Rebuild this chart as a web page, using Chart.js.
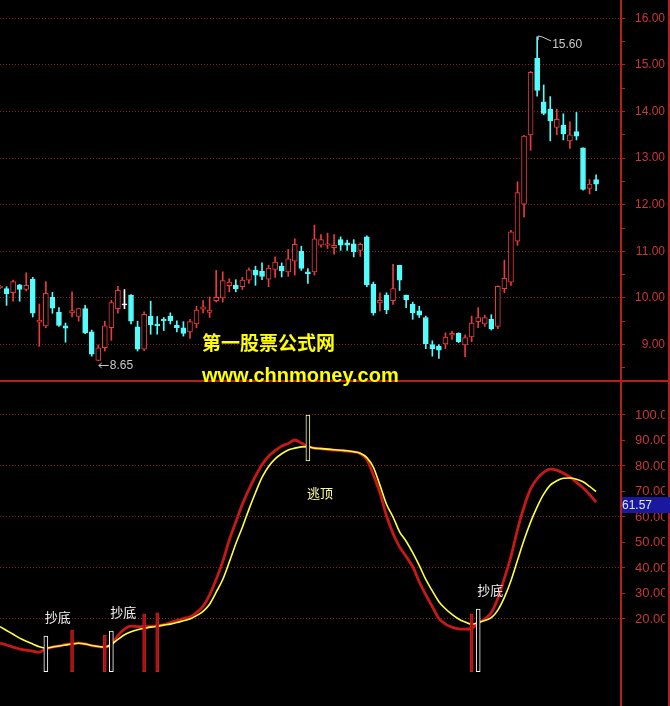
<!DOCTYPE html>
<html>
<head>
<meta charset="utf-8">
<title>K线 + 抄底逃顶指标</title>
<script src="https://cdn.jsdelivr.net/npm/chart.js@4.4.1/dist/chart.umd.min.js"></script>
<style>
  html, body { margin: 0; padding: 0; background: #000; }
  #wrap { position: relative; width: 670px; height: 706px; overflow: hidden; background: #000; }
  #priceChart { position: absolute; left: 0; top: 0; }
  #oscChart { position: absolute; left: 0; top: 382px; }
  .wm { position: absolute; left: 202px; color: #ffff00; white-space: nowrap; z-index: 2; }
  #wm1 { top: 332px; font: bold 19px 'Noto Sans CJK SC', sans-serif; line-height: 19px; }
  #wm2 { top: 365px; font: bold 20px 'Liberation Sans', Arial, sans-serif; line-height: 20px; }
</style>
</head>
<body>
<div id="wrap">
  <canvas id="priceChart" width="670" height="382"></canvas>
  <canvas id="oscChart" width="670" height="324"></canvas>
  <div class="wm" id="wm1">第一股票公式网</div>
  <div class="wm" id="wm2">www.chnmoney.com</div>
</div>
<script>
// --------------------------------------------------------------------------
// daily candles
// --------------------------------------------------------------------------
const candleOpen = [10.22,10.2,10.11,10.28,10.18,10.4,9.48,9.4,10.01,9.69,
  9.4,9.68,9.6,9.77,9.27,8.66,8.93,9.36,9.77,9.85,
  10.06,9.38,8.9,9.61,9.44,9.54,9.61,9.41,9.36,9.27,
  9.44,9.76,9.69,9.94,10.0,10.26,10.27,10.24,10.38,10.59,
  10.57,10.4,10.61,10.68,10.56,10.79,11.0,10.56,10.56,11.13,
  11.13,11.08,11.25,11.18,11.16,11.02,11.31,10.29,9.89,10.06,
  9.94,10.7,10.06,9.86,9.72,9.58,9.0,8.96,9.01,9.2,
  9.24,8.99,9.16,9.49,9.44,9.54,9.39,10.2,10.34,11.22,
  12.01,13.5,15.14,14.21,14.05,13.66,13.71,13.37,13.57,13.22,
  12.35,12.54];
const candleHigh = [10.27,10.24,10.38,10.29,10.54,10.44,9.87,10.35,10.12,9.79,
  9.46,10.13,9.78,9.84,9.31,8.99,9.5,9.95,10.25,10.18,
  10.07,9.5,9.7,9.93,9.6,9.58,9.68,9.51,9.49,9.54,
  9.82,9.94,10.02,10.59,10.56,10.41,10.39,10.44,10.64,10.68,
  10.75,10.7,10.88,10.75,11.04,11.27,11.11,10.63,11.56,11.36,
  11.39,11.36,11.31,11.24,11.25,11.18,11.33,10.34,10.11,10.11,
  10.72,10.7,10.06,9.91,9.82,9.61,9.08,9.0,9.25,9.29,
  9.25,9.2,9.61,9.79,9.63,9.64,10.26,10.81,11.45,12.49,
  13.49,14.86,15.6,14.57,14.32,14.05,13.95,13.78,13.98,13.22,
  12.54,12.64];
const candleLow = [10.2,9.84,9.93,9.93,10.15,9.59,8.96,9.36,9.67,9.39,
  9.05,9.59,9.5,9.23,8.75,8.65,8.86,9.09,9.67,9.77,
  9.44,8.86,8.87,9.22,9.22,9.3,9.44,9.27,9.18,9.13,
  9.36,9.68,9.58,9.91,9.91,10.13,10.13,10.18,10.31,10.27,
  10.39,10.24,10.44,10.45,10.46,10.49,10.59,10.31,10.49,11.09,
  11.06,10.94,11.02,11.02,10.88,10.89,10.24,9.63,9.72,9.66,
  9.86,10.16,9.79,9.54,9.58,8.91,8.75,8.7,8.91,9.11,
  9.04,8.74,9.06,9.36,9.39,9.31,9.34,10.11,10.27,11.13,
  11.74,13.17,14.33,13.93,13.37,13.5,13.39,13.21,13.39,12.31,
  12.23,12.3];
const candleClose = [10.25,10.09,10.35,10.18,10.27,9.67,9.52,10.1,9.78,9.41,
  9.35,9.73,9.77,9.25,8.79,8.93,9.4,9.9,10.16,9.85,
  9.5,8.9,9.65,9.42,9.4,9.51,9.51,9.36,9.24,9.49,
  9.74,9.81,9.74,10.01,10.37,10.34,10.2,10.38,10.6,10.49,
  10.46,10.64,10.77,10.58,10.84,11.15,10.63,10.52,11.27,11.25,
  11.16,11.13,11.13,11.13,10.99,11.15,10.28,9.68,9.95,9.74,
  10.2,10.38,9.96,9.68,9.63,9.02,8.91,8.88,9.16,9.24,
  9.06,9.15,9.46,9.58,9.58,9.34,10.25,10.42,11.42,12.26,
  13.47,14.84,14.45,13.96,13.8,13.83,13.52,13.5,13.47,12.33,
  12.44,12.44];

// --------------------------------------------------------------------------
// indicator panel: red (fast) and yellow (slow) lines, signal bars
// --------------------------------------------------------------------------
const oscFast = [10.6,9.8,9,8.2,7.8,7.4,7,8.3,9,9.4,
  10,10.3,10.6,10.2,9.6,9.2,9,10,13.5,16,
  17.2,17,17,17.2,17.3,17.8,18.6,19.4,20.2,20.8,
  22.5,25,29.5,35.5,42.5,51,58,65,70.8,76,
  80.5,83.8,86,87.8,88.8,90.2,89,87.6,87,86.8,
  86.4,86.2,86,85.8,85.5,84.8,82.5,76.5,69.5,60.5,
  53.5,48.3,44.5,40.5,34.6,29.5,24.8,20.2,18,16.8,
  16.1,16,16.3,18.4,20,22.5,28,36,44.5,55,
  64,71,75,77.5,78.8,78.4,77.2,75.7,73.6,71.5,
  68.8,65.8];
const oscSlow = [17,15.5,14,12.5,11.3,10.2,9.1,8.6,9,9.4,
  9.8,10.2,10.5,10.2,9.6,9.2,9,10,12,13.8,
  15,15.8,16.3,16.8,17.2,17.6,18,18.6,19.3,20,
  21.3,23,25.8,30.5,35.5,42.3,49.5,56,63,69.5,
  75.5,79.8,82.8,84.8,86.3,87,87.5,87.6,87,86.8,
  86.6,86.4,86.2,86,85.6,85,83.3,79.5,72.5,65,
  60,54.2,50.5,46,41,35.5,31,26.8,24,21.8,
  20,18.8,17.9,18.6,19.4,20.5,23.5,28.5,35,43,
  51,58,64,69,72.5,74.2,75.2,75.3,74.8,73.8,
  72,70];

const buySignalIdx = [7, 17, 73];
const buySignalTop = [13.3, 15.3, 23.9];
const redSignalIdx = [11, 16, 22, 24, 72];
const redSignalTop = [15.7, 13.7, 22, 22.4, 22];
const sellSignalIdx = [47];
const sellSignalLow = [82];
const sellSignalTop = [100];
const signalBase = -0.7;

const buyLabel = '抄底';
const sellLabel = '逃顶';
const lastValueLabel = '61.57';

const priceLabelTicks = [9, 10, 11, 12, 13, 14, 15, 16];
const priceMinorTicks = [8.5, 9.5, 10.5, 11.5, 12.5, 13.5, 14.5, 15.5];
const oscLabelTicks = [20, 30, 40, 50, 60, 70, 80, 90, 100];
const oscGridTicks = [20, 40, 60, 80, 100];

// --------------------------------------------------------------------------
const UP = '#e83c3c';
const DOWN = '#54fcfc';
const FLAT = '#ffffff';
const AXIS = '#b41e1e';
const GRID = '#8c2020';
const LABEL = '#c83838';
const MARK = '#c8c8c8';
const NONE = 'rgba(0,0,0,0)';

function candleColor(i) {
  if (candleClose[i] > candleOpen[i]) return UP;
  if (candleClose[i] < candleOpen[i]) return DOWN;
  return FLAT;
}

const xScale = { type: 'linear', display: false, min: 0, max: 94.8, offset: false };

// right axis box: fixed width, no label overhang padding
function fitAxis(s) {
  s.width = 44;
  s.paddingTop = 0;
  s.paddingBottom = 0;
}

// frame lines: axis line, right border, panel separator
const frame = {
  id: 'frame',
  afterDraw(chart, args, opts) {
    const { ctx, chartArea } = chart;
    ctx.save();
    ctx.strokeStyle = AXIS;
    ctx.lineWidth = 2;
    ctx.beginPath();
    ctx.moveTo(chartArea.right, 0);
    ctx.lineTo(chartArea.right, chart.height);
    ctx.moveTo(chart.width - 1, 0);
    ctx.lineTo(chart.width - 1, chart.height);
    if (opts.bottomLine) {
      ctx.moveTo(0, chart.height - 1);
      ctx.lineTo(chart.width, chart.height - 1);
    }
    ctx.stroke();
    ctx.restore();
  }
};

// highest / lowest price markers
const priceMarks = {
  id: 'priceMarks',
  afterDatasetsDraw(chart) {
    const { ctx, scales: { x, y } } = chart;
    const hi = candleHigh.indexOf(Math.max(...candleHigh));
    const lo = candleLow.indexOf(Math.min(...candleLow));
    ctx.save();
    ctx.strokeStyle = MARK;
    ctx.fillStyle = MARK;
    ctx.lineWidth = 1;
    ctx.font = "12px 'Liberation Sans', Arial, sans-serif";
    ctx.textBaseline = 'middle';
    ctx.textAlign = 'left';

    let px = x.getPixelForValue(lo) + 0.5;
    let py = Math.round(y.getPixelForValue(candleLow[lo]) + 4) + 0.5;
    ctx.beginPath();
    ctx.moveTo(px, py); ctx.lineTo(px + 10, py);
    ctx.moveTo(px + 3, py - 2.5); ctx.lineTo(px, py); ctx.lineTo(px + 3, py + 2.5);
    ctx.stroke();
    ctx.fillText(candleLow[lo].toFixed(2), px + 11, py + 0.5);

    px = x.getPixelForValue(hi) + 1;
    py = y.getPixelForValue(candleHigh[hi]);
    ctx.beginPath();
    ctx.moveTo(px, py + 3); ctx.lineTo(px, py - 1); ctx.lineTo(px + 4, py);
    ctx.lineTo(px + 13, py + 4);
    ctx.stroke();
    ctx.fillText(candleHigh[hi].toFixed(2), px + 14, py + 7.5);
    ctx.restore();
  }
};

// signal captions and last value box
const oscMarks = {
  id: 'oscMarks',
  afterDraw(chart) {
    const { ctx, scales: { x, y }, chartArea } = chart;
    ctx.save();
    ctx.font = "13px 'Noto Sans CJK SC', sans-serif";
    ctx.textBaseline = 'middle';
    ctx.textAlign = 'left';
    ctx.fillStyle = '#f0f0f0';
    buySignalIdx.forEach((idx, k) => {
      ctx.fillText(buyLabel, x.getPixelForValue(idx) - 1, y.getPixelForValue(buySignalTop[k]) - 19);
    });
    ctx.fillStyle = '#ffffa0';
    sellSignalIdx.forEach((idx, k) => {
      ctx.fillText(sellLabel, x.getPixelForValue(idx) - 1, y.getPixelForValue(sellSignalLow[k]) + 32);
    });

    const ly = y.getPixelForValue(oscFast[oscFast.length - 1]);
    ctx.fillStyle = '#1818a0';
    ctx.fillRect(chartArea.right + 1, Math.round(ly - 5), chart.width - chartArea.right - 1, 16);
    ctx.fillStyle = '#e6e6e6';
    ctx.font = "12px 'Liberation Sans', Arial, sans-serif";
    ctx.fillText(lastValueLabel, chartArea.right + 1, Math.round(ly - 5) + 8.5);
    ctx.restore();
  }
};

document.addEventListener('DOMContentLoaded', () => {
  if (typeof Chart === 'undefined') return;

  new Chart(document.getElementById('priceChart'), {
    type: 'bar',
    data: {
      datasets: [
        {
          label: 'body',
          data: candleOpen.map((o, i) => ({ x: i, y: [o, candleClose[i]] })),
          backgroundColor: ctx => {
            const i = ctx.dataIndex || 0;
            return candleClose[i] > candleOpen[i] ? '#000' : candleColor(i);
          },
          borderColor: ctx => candleColor(ctx.dataIndex || 0),
          borderWidth: 1,
          borderSkipped: false,
          barThickness: 5,
          minBarLength: 1,
          grouped: false
        },
        {
          label: 'wick',
          data: candleLow.map((l, i) => ({ x: i, y: [l, candleHigh[i]] })),
          backgroundColor: ctx => candleColor(ctx.dataIndex || 0),
          borderWidth: 0,
          barThickness: 1,
          grouped: false
        }
      ]
    },
    options: {
      responsive: false,
      animation: false,
      events: [],
      layout: { padding: { left: 0, right: 5, top: 0, bottom: 0 } },
      plugins: { legend: { display: false }, tooltip: { enabled: false }, frame: { bottomLine: true } },
      scales: {
        x: { ...xScale },
        y: {
          position: 'right',
          min: 8.1953,
          max: 16.3927,
          afterFit: fitAxis,
          afterBuildTicks: s => {
            s.ticks = priceMinorTicks.concat(priceLabelTicks).sort((a, b) => a - b).map(v => ({ value: v }));
          },
          grid: {
            color: ctx => (ctx.tick && priceLabelTicks.includes(ctx.tick.value)) ? GRID : NONE,
            tickColor: AXIS,
            tickLength: 4
          },
          border: { display: false, dash: [1, 2] },
          ticks: {
            autoSkip: false,
            padding: 10,
            crossAlign: 'far',
            color: LABEL,
            font: { family: "'Liberation Sans', Arial, sans-serif", size: 12 },
            callback: v => priceLabelTicks.includes(v) ? v.toFixed(2) : ''
          }
        }
      }
    },
    plugins: [priceMarks, frame]
  });

  new Chart(document.getElementById('oscChart'), {
    type: 'bar',
    data: {
      datasets: [
        {
          label: 'buy',
          data: buySignalIdx.map((idx, k) => ({ x: idx, y: [signalBase, buySignalTop[k]] })),
          backgroundColor: '#000',
          borderColor: '#ffffff',
          borderWidth: 1,
          borderSkipped: false,
          barThickness: 4,
          grouped: false
        },
        {
          label: 'red',
          data: redSignalIdx.map((idx, k) => ({ x: idx, y: [signalBase, redSignalTop[k]] })),
          backgroundColor: '#a81212',
          borderColor: '#cc1c1c',
          borderWidth: 1,
          borderSkipped: false,
          barThickness: 3,
          grouped: false
        },
        {
          label: 'sell',
          data: sellSignalIdx.map((idx, k) => ({ x: idx, y: [sellSignalLow[k], sellSignalTop[k]] })),
          backgroundColor: '#000',
          borderColor: '#ffff90',
          borderWidth: 1,
          borderSkipped: false,
          barThickness: 4,
          grouped: false
        },
        {
          type: 'line',
          label: 'slow',
          data: oscSlow.map((v, i) => ({ x: i, y: v })),
          borderColor: '#ffff40',
          borderWidth: 1.6,
          pointRadius: 0,
          cubicInterpolationMode: 'monotone'
        },
        {
          type: 'line',
          label: 'fast',
          data: oscFast.map((v, i) => ({ x: i, y: v })),
          borderColor: '#c81818',
          borderWidth: 2.8,
          pointRadius: 0,
          cubicInterpolationMode: 'monotone'
        }
      ]
    },
    options: {
      responsive: false,
      animation: false,
      events: [],
      layout: { padding: { left: 0, right: 5, top: 0, bottom: 0 } },
      plugins: { legend: { display: false }, tooltip: { enabled: false }, frame: { bottomLine: false } },
      scales: {
        x: { ...xScale },
        y: {
          position: 'right',
          min: -14.12,
          max: 112.94,
          afterFit: fitAxis,
          afterBuildTicks: s => { s.ticks = oscLabelTicks.map(v => ({ value: v })); },
          grid: {
            color: ctx => (ctx.tick && oscGridTicks.includes(ctx.tick.value)) ? GRID : NONE,
            tickColor: AXIS,
            tickLength: 4
          },
          border: { display: false, dash: [1, 2] },
          ticks: {
            autoSkip: false,
            padding: 10,
            crossAlign: 'near',
            color: LABEL,
            font: { family: "'Liberation Sans', Arial, sans-serif", size: 13 },
            callback: v => v.toFixed(2)
          }
        }
      }
    },
    plugins: [frame, oscMarks]
  });
});
</script>
</body>
</html>
